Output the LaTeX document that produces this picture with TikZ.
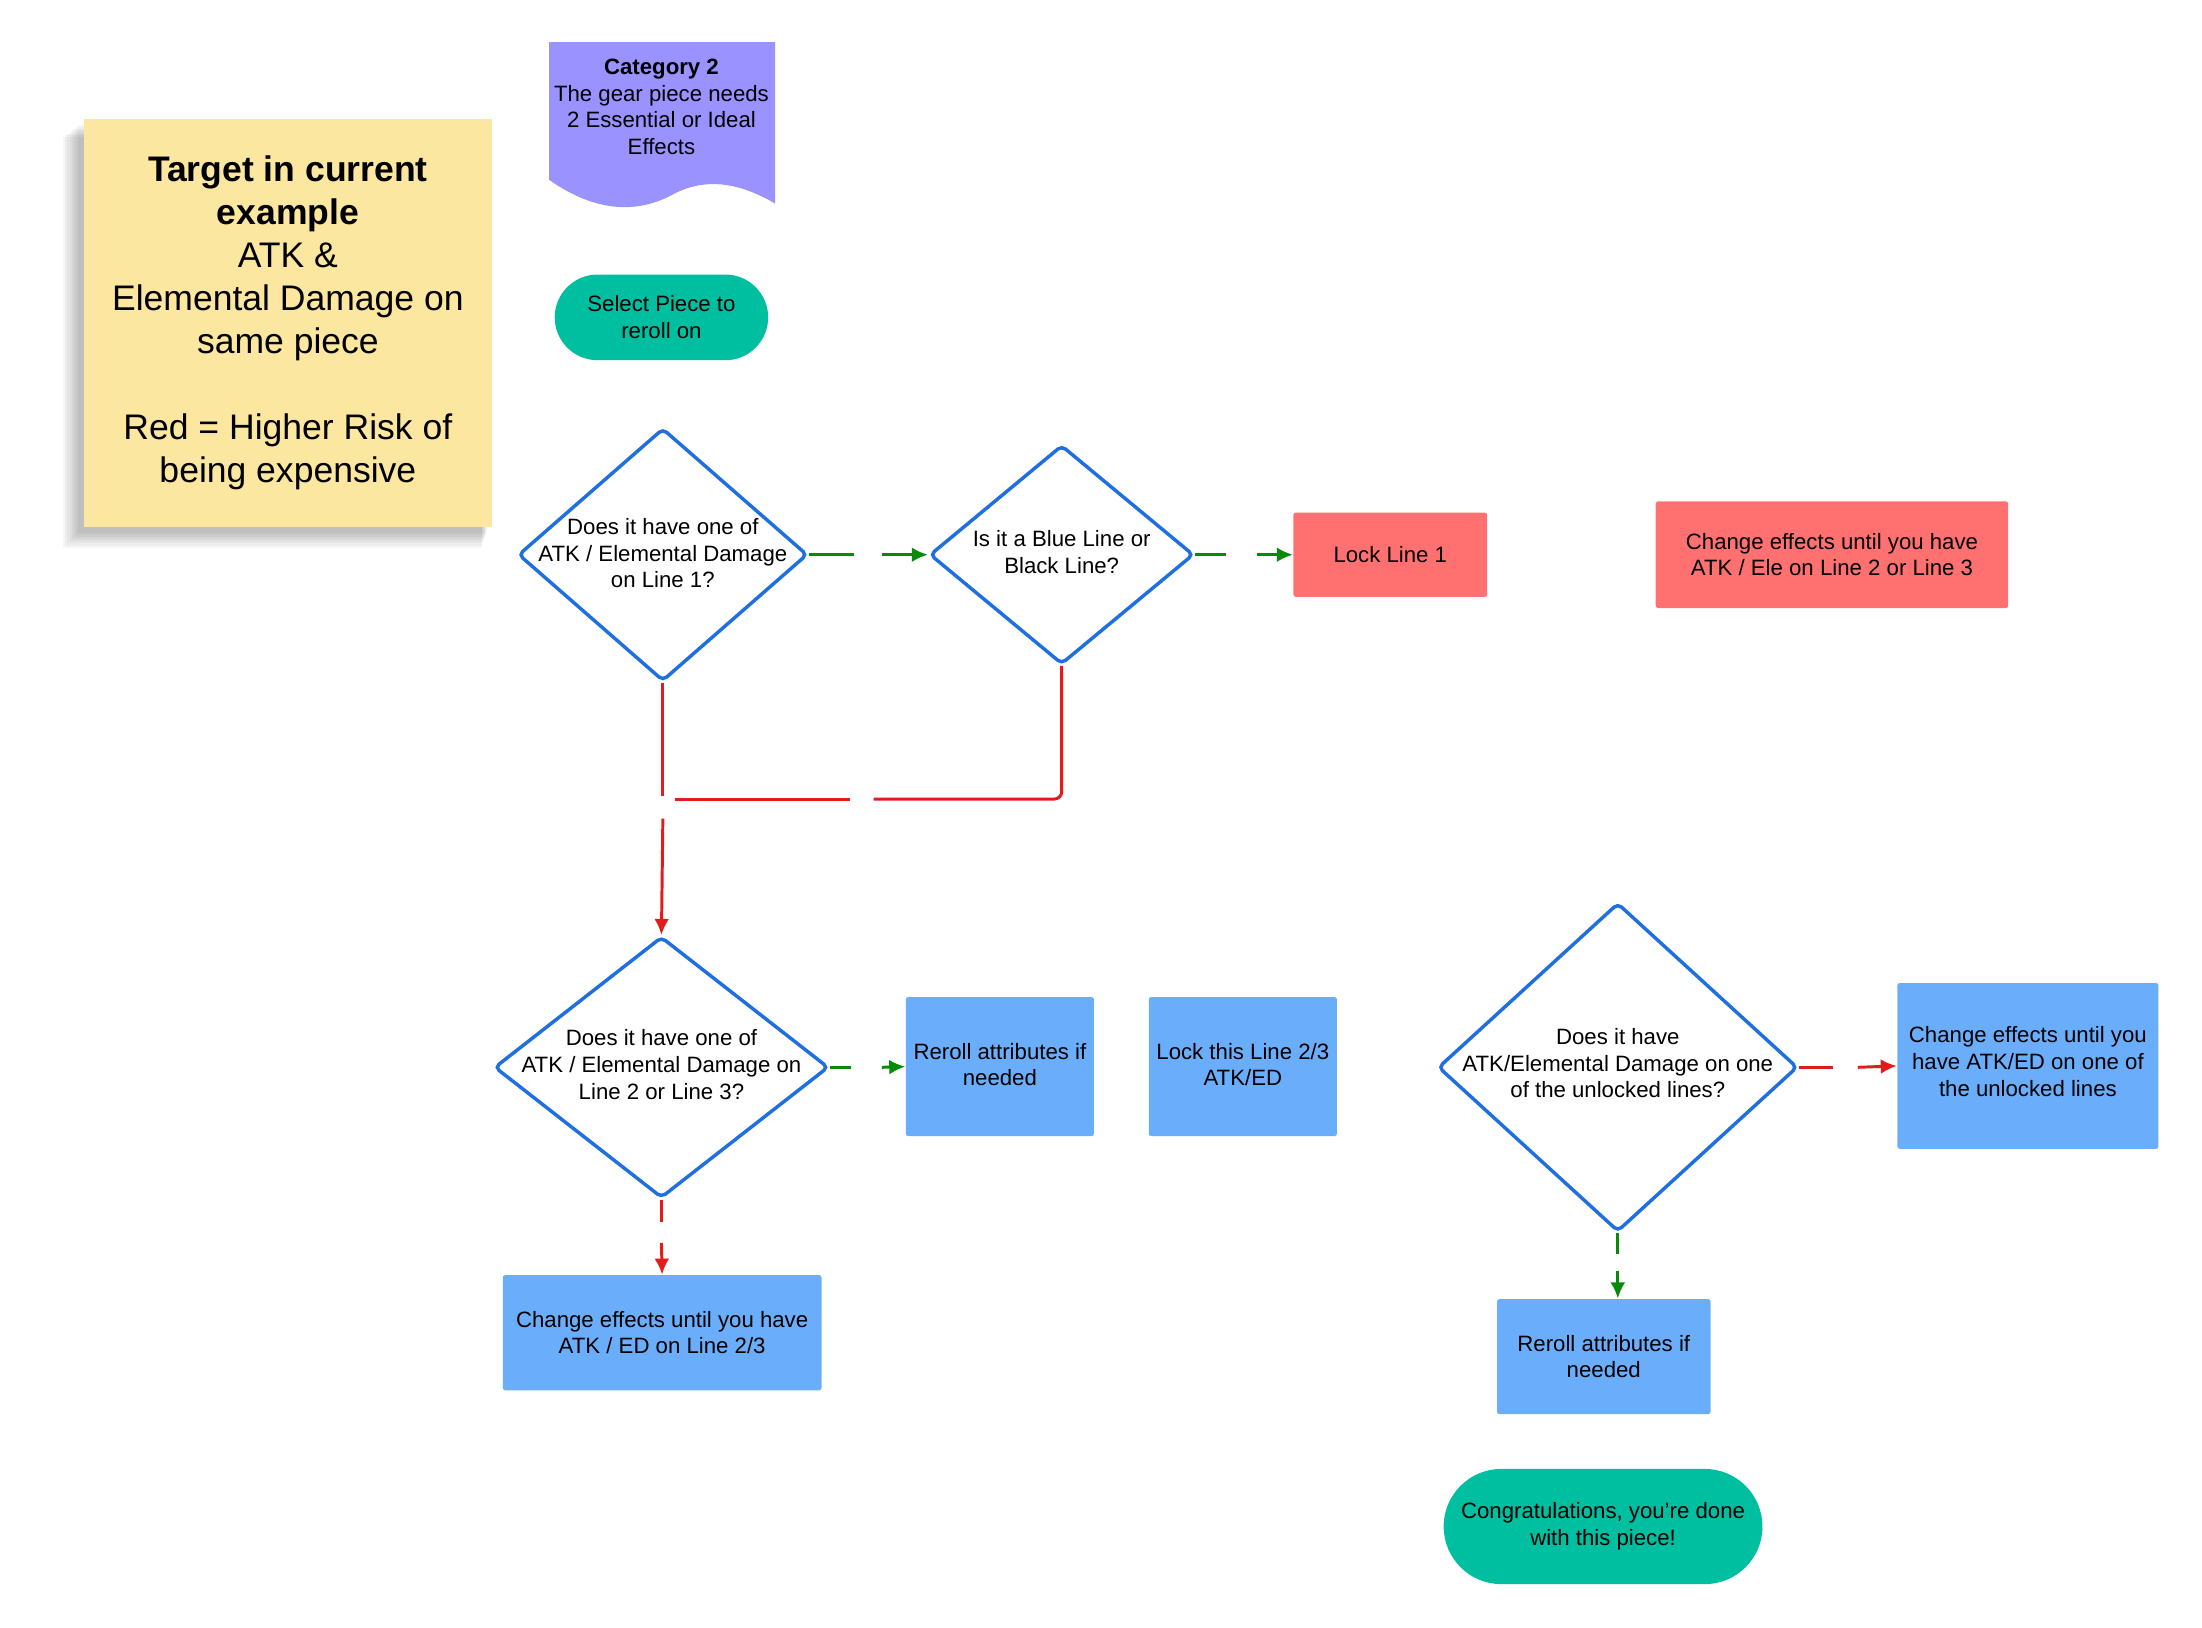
\documentclass[tikz,border=0pt]{standalone}
\usepackage{fontspec}
\setmainfont{Liberation Sans}
\usetikzlibrary{shapes.geometric,shapes.misc,shadows,arrows.meta}
\definecolor{dblue}{HTML}{1F6FE0}
\definecolor{boxblue}{HTML}{6AADFA}
\definecolor{boxred}{HTML}{FF7171}
\definecolor{teal}{HTML}{00BFA0}
\definecolor{purp}{HTML}{9A92FF}
\definecolor{sticky}{HTML}{FCE7A0}
\definecolor{gline}{HTML}{078A07}
\definecolor{rline}{HTML}{E31B1B}
\begin{document}
\begin{tikzpicture}[x=0.02cm,y=-0.02cm,
  every node/.style={font=\fontsize{9}{10.8}\selectfont, align=center, inner sep=0pt},
  dia/.style={shape=diamond, draw=dblue, line width=1.4pt, fill=white, rounded corners=2pt},
  box/.style={rectangle, rounded corners=1pt, draw=none},
  bb/.style={box, fill=boxblue},
  br/.style={box, fill=boxred},
  term/.style={rounded rectangle, fill=teal},
  g/.style={draw=gline, line width=1.2pt},
  r/.style={draw=rline, line width=1.2pt},
  ga/.style={g, -{Latex[length=6.5pt,width=6pt]}},
  ra/.style={r, -{Latex[length=6.5pt,width=6pt]}}]
\useasboundingbox (0,0) rectangle (1568,1159);
% sticky shadow (soft)
\foreach \i in {1,...,8}{
  \fill[black, opacity=0.035] (60-3-\i*1.5,85+3+\i*1.2) rectangle (350-3-\i*0.5,375+3+\i*1.5);
}
\node[fill=sticky, minimum width=290*0.02cm, minimum height=290*0.02cm, font=\fontsize{14.4}{17.4}\selectfont] (note) at (205,230)
 {\textbf{Target in current}\\\textbf{example}\\ATK \&\\Elemental Damage on\\same piece\\[17.4pt]Red = Higher Risk of\\being expensive};
% category doc
\path[fill=purp] (391,30) -- (552,30) -- (552,145) .. controls (530,132) and (505,125) .. (480,138) .. controls (455,152) and (425,152) .. (391,128) -- cycle;
\node (cat) at (471,76) {\textbf{Category 2}\\The gear piece needs\\2 Essential or Ideal\\Effects};
\node[term, minimum width=152*0.02cm, minimum height=61*0.02cm] (sel) at (471,226) {Select Piece to\\reroll on};
% diamonds
\node[dia, minimum width=206*0.02cm, minimum height=180*0.02cm] (d1) at (472,395) {};
\node at (472,394) {Does it have one of\\ATK / Elemental Damage\\on Line 1?};
\node[dia, minimum width=188*0.02cm, minimum height=156*0.02cm] (d2) at (756,395) {};
\node at (756,393) {Is it a Blue Line or\\Black Line?};
\node[dia, minimum width=238*0.02cm, minimum height=186*0.02cm] (d3) at (471,760) {};
\node at (471,758) {Does it have one of\\ATK / Elemental Damage on\\Line 2 or Line 3?};
\node[dia, minimum width=256*0.02cm, minimum height=234*0.02cm] (d4) at (1152,760) {};
\node at (1152,757) {Does it have\\ATK/Elemental Damage on one\\of the unlocked lines?};
% boxes
\node[br, minimum width=138*0.02cm, minimum height=60*0.02cm] (lock1) at (990,395) {Lock Line 1};
\node[br, minimum width=251*0.02cm, minimum height=76*0.02cm] (chr) at (1304.5,395) {Change effects until you have\\ATK / Ele on Line 2 or Line 3};
\node[bb, minimum width=134*0.02cm, minimum height=99*0.02cm] (rr1) at (712,759.5) {};
\node at (712,758) {Reroll attributes if\\needed};
\node[bb, minimum width=134*0.02cm, minimum height=99*0.02cm] (lk2) at (885,759.5) {};
\node at (885,758) {Lock this Line 2/3\\ATK/ED};
\node[bb, minimum width=186*0.02cm, minimum height=118*0.02cm] (chb) at (1444,759) {};
\node at (1444,756) {Change effects until you\\have ATK/ED on one of\\the unlocked lines};
\node[bb, minimum width=227*0.02cm, minimum height=82*0.02cm] (chl) at (471.5,949) {Change effects until you have\\ATK / ED on Line 2/3};
\node[bb, minimum width=152*0.02cm, minimum height=82*0.02cm] (rr2) at (1142,966) {Reroll attributes if\\needed};
\node[term, minimum width=227*0.02cm, minimum height=82*0.02cm] (done) at (1141.5,1087) {Congratulations, you're done\\with this piece!};
% connectors
\coordinate (a1) at (608,395); \coordinate (a2) at (628,395);
\draw[g] (d1.east) -- (a1); \draw[ga] (a2) -- (d2.west);
\coordinate (b1) at (873,395); \coordinate (b2) at (895,395);
\draw[g] (d2.east) -- (b1); \draw[ga] (b2) -- (lock1.west);
\coordinate (c1) at (472,567); \coordinate (c2) at (472,583);
\draw[r] (d1.south) -- (c1); \draw[ra] (c2) -- (d3.north);
\coordinate (e1) at (622,569); \coordinate (e2) at (605,569); \coordinate (e3) at (481,569);
\draw[r, rounded corners=3pt] (d2.south) |- (e1); \draw[r] (e2) -- (e3);
\coordinate (f1) at (606,760); \coordinate (f2) at (628,760);
\draw[g] (d3.east) -- (f1); \draw[ga] (f2) -- (rr1.west);
\coordinate (h1) at (471,870); \coordinate (h2) at (471,885);
\draw[r] (d3.south) -- (h1); \draw[ra] (h2) -- (chl.north);
\coordinate (i1) at (1305,760); \coordinate (i2) at (1323,760);
\draw[r] (d4.east) -- (i1); \draw[ra] (i2) -- (chb.west);
\coordinate (j1) at (1152,893); \coordinate (j2) at (1152,905);
\draw[g] (d4.south) -- (j1); \draw[ga] (j2) -- (rr2.north -| j2);
\end{tikzpicture}
\end{document}
